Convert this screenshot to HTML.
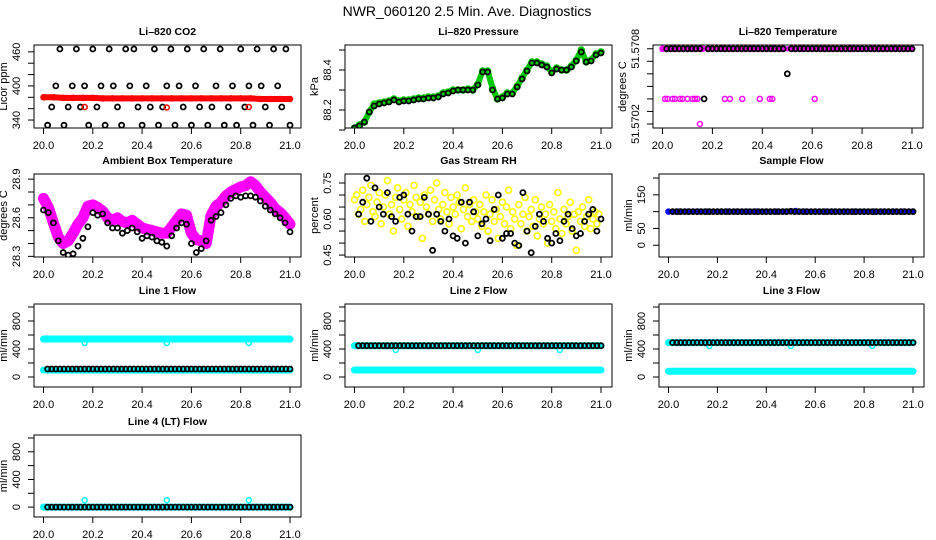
<!DOCTYPE html>
<html><head><meta charset="utf-8"><style>
html,body{margin:0;padding:0;background:#fff;}
svg{display:block;font-family:"Liberation Sans",Arial,sans-serif;}
</style></head><body>
<svg id="chart" width="936" height="540" viewBox="0 0 936 540" xmlns="http://www.w3.org/2000/svg">
<rect x="0" y="0" width="936" height="540" fill="#fff"/>
<text x="467" y="16" font-size="14" text-anchor="middle">NWR_060120  2.5 Min. Ave. Diagnostics</text>
</svg>
<script>
// ---- data ----
const tB = []; for (let k = 1; k <= 60; k++) tB.push(20 + k / 60);
const tC26 = []; for (let k = 0; k <= 25; k++) tC26.push(20 + k * 0.04);
const tC51 = []; for (let k = 0; k <= 50; k++) tC51.push(20 + k * 0.02);
const tY120 = []; for (let k = 0; k < 120; k++) tY120.push(20 + k / 120);
const dipTimes = [20.167, 20.5, 20.833];

const co2Black = [331,363,400,465,331,363,400,465,363,400,331,465,363,400,331,465,400,363,331,465,400,465,363,331,400,363,465,331,363,400,465,331,400,363,465,331,400,363,465,331,363,400,465,331,363,400,331,465,363,400,331,465,400,363,331,465,400,363,465,331];
const co2Red = [380,380,379,379,379,379,378,378,378,378,378,378,378,378,378,378,378,378,378,378,378,378,377,377,377,377];
const co2RedDip = [363,362,363];

const pressGreen = [88.11,88.125,88.14,88.19,88.23,88.235,88.24,88.245,88.255,88.245,88.25,88.25,88.255,88.26,88.26,88.265,88.265,88.27,88.285,88.29,88.30,88.30,88.30,88.305,88.30,88.33,88.395,88.395,88.31,88.255,88.265,88.285,88.285,88.32,88.36,88.40,88.44,88.44,88.43,88.42,88.39,88.41,88.40,88.40,88.42,88.45,88.50,88.44,88.45,88.48,88.49];
const pressBlack = [88.11,88.12,88.14,88.19,88.22,88.23,88.235,88.24,88.25,88.24,88.245,88.245,88.25,88.255,88.255,88.26,88.26,88.265,88.28,88.285,88.295,88.30,88.30,88.30,88.30,88.325,88.39,88.39,88.30,88.255,88.26,88.28,88.28,88.315,88.355,88.395,88.435,88.435,88.425,88.415,88.385,88.405,88.40,88.40,88.415,88.445,88.49,88.44,88.445,88.475,88.485];

const tempMagTop = [51.5708,51.5708,51.5708,51.5708,51.5708,51.5708,51.5708,51.5708,51.5708,51.5708,51.5708,51.5708,51.5708,51.5708,51.5708,51.5708,51.5708,51.5708,51.5708,51.5708,51.5708,51.5708,51.5708,51.5708,51.5708,51.5708];
const tempBlack = [51.5708,51.5708,51.5708,51.5708,51.5708,51.5708,51.5708,51.5708,51.5708,51.5704,51.5708,51.5708,51.5708,51.5708,51.5708,51.5708,51.5708,51.5708,51.5708,51.5708,51.5708,51.5708,51.5708,51.5708,51.5708,51.5708,51.5708,51.5708,51.5708,51.5706,51.5708,51.5708,51.5708,51.5708,51.5708,51.5708,51.5708,51.5708,51.5708,51.5708,51.5708,51.5708,51.5708,51.5708,51.5708,51.5708,51.5708,51.5708,51.5708,51.5708,51.5708,51.5708,51.5708,51.5708,51.5708,51.5708,51.5708,51.5708,51.5708,51.5708];
const tempMagLowT = [20.01,20.02,20.04,20.05,20.07,20.08,20.10,20.12,20.13,20.14,20.15,20.25,20.27,20.32,20.39,20.43,20.44,20.61];
const tempMagLowV = [51.5704,51.5704,51.5704,51.5704,51.5704,51.5704,51.5704,51.5704,51.5704,51.5704,51.5702,51.5704,51.5704,51.5704,51.5704,51.5704,51.5704,51.5704];

const ambMag = [28.75,28.68,28.56,28.45,28.40,28.42,28.48,28.55,28.60,28.69,28.70,28.68,28.65,28.60,28.58,28.60,28.57,28.56,28.58,28.55,28.52,28.51,28.50,28.49,28.48,28.48,28.53,28.58,28.63,28.62,28.48,28.43,28.42,28.40,28.62,28.69,28.72,28.77,28.80,28.82,28.84,28.85,28.88,28.85,28.80,28.76,28.72,28.67,28.64,28.60,28.55];
const ambBlack = [28.66,28.64,28.56,28.42,28.33,28.31,28.32,28.38,28.44,28.53,28.64,28.62,28.63,28.56,28.52,28.52,28.48,28.50,28.52,28.49,28.44,28.46,28.45,28.42,28.41,28.38,28.46,28.52,28.56,28.55,28.40,28.33,28.36,28.42,28.58,28.61,28.64,28.70,28.75,28.77,28.76,28.77,28.77,28.76,28.73,28.69,28.66,28.63,28.60,28.56,28.49];

const rhYellow = [.68,.70,.62,.64,.72,.59,.66,.69,.74,.63,.61,.67,.71,.58,.65,.70,.76,.62,.66,.55,.69,.73,.64,.60,.68,.71,.57,.66,.63,.74,.69,.61,.67,.52,.70,.65,.62,.72,.59,.68,.75,.64,.60,.66,.71,.63,.58,.69,.65,.62,.70,.67,.56,.64,.73,.61,.66,.59,.68,.63,.60,.66,.57,.63,.70,.55,.62,.68,.59,.64,.52,.61,.67,.58,.65,.72,.56,.63,.60,.49,.66,.58,.62,.69,.55,.61,.64,.57,.68,.53,.60,.65,.58,.62,.50,.66,.59,.63,.56,.71,.60,.54,.64,.58,.61,.67,.55,.62,.47,.63,.59,.65,.57,.61,.68,.56,.60,.63,.58,.62];
const rhBlack = [.62,.67,.77,.59,.73,.65,.62,.71,.61,.59,.69,.70,.62,.55,.61,.61,.69,.62,.47,.62,.59,.55,.60,.53,.52,.67,.50,.67,.63,.53,.58,.60,.51,.64,.70,.52,.54,.54,.50,.49,.71,.55,.46,.57,.62,.59,.52,.50,.54,.51,.59,.62,.56,.53,.54,.59,.62,.64,.55,.60];

const sampleBlue = [100,100,100,100,100,100,100,100,100,100,100,100,100,102,100,100,100,100,100,100,100,100,100,100,100,100];
const sampleBlack = [100,100,100,100,100,100,100,100,100,100,100,100,100,100,100,100,100,100,100,100,100,100,100,100,100,100,100,100,100,101,100,100,100,100,100,100,100,100,100,100,100,100,100,100,100,100,100,100,100,100,100,100,100,100,100,100,100,100,100,100];

const l1CyanHi = [543,543,543,543,543,543,543,543,543,543,543,543,543,543,543,543,543,543,543,543,543,543,543,543,543,543];
const l1CyanDip = [486,486,486];
const l1CyanLo = [100,100,100,100,100,100,100,100,100,100,100,100,100,100,100,100,100,100,100,100,100,100,100,100,100,100];
const l1Black = [114,114,114,114,114,114,114,114,114,114,114,114,114,114,114,114,114,114,114,114,114,114,114,114,114,114,114,114,114,114,114,114,114,114,114,114,114,114,114,114,114,114,114,114,114,114,114,114,114,114,114,114,114,114,114,114,114,114,114,114];

const l2CyanHi = [447,447,447,447,447,447,447,447,447,447,447,447,447,447,447,447,447,447,447,447,447,447,447,447,447,447];
const l2CyanDip = [386,386,386];
const l2CyanLo = [100,100,100,100,100,100,100,100,100,100,100,100,100,100,100,100,100,100,100,100,100,100,100,100,100,100];
const l2Black = [447,447,447,447,447,447,447,447,447,447,447,447,447,447,447,447,447,447,447,447,447,447,447,447,447,447,447,447,447,447,447,447,447,447,447,447,447,447,447,447,447,447,447,447,447,447,447,447,447,447,447,447,447,447,447,447,447,447,447,447];

const l3CyanHi = [492,492,492,492,492,492,492,492,492,492,492,492,492,492,492,492,492,492,492,492,492,492,492,492,492,492];
const l3CyanDip = [443,443,443];
const l3CyanLo = [81,81,81,81,81,81,81,81,81,81,81,81,81,81,81,81,81,81,81,81,81,81,81,81,81,81];
const l3Black = [492,492,492,492,492,492,492,492,492,492,492,492,492,492,492,492,492,492,492,492,492,492,492,492,492,492,492,492,492,492,492,492,492,492,492,492,492,492,492,492,492,492,492,492,492,492,492,492,492,492,492,492,492,492,492,492,492,492,492,492];

const l4Cyan = [0,0,0,0,0,0,0,0,0,0,0,0,0,0,0,0,0,0,0,0,0,0,0,0,0,0];
const l4CyanDip = [100,100,100];
const l4Black = [0,0,0,0,0,0,0,0,0,0,0,0,0,0,0,0,0,0,0,0,0,0,0,0,0,0,0,0,0,0,0,0,0,0,0,0,0,0,0,0,0,0,0,0,0,0,0,0,0,0,0,0,0,0,0,0,0,0,0,0];

const xTicks = [20.0, 20.2, 20.4, 20.6, 20.8, 21.0];
const xTickLabels = ["20.0","20.2","20.4","20.6","20.8","21.0"];
const flowTicks = [0,200,400,600,800,1000];
const flowLabels = ["0","","400","","800",""];

// ---- layout ----
const svg = document.getElementById('chart');
const NS = 'http://www.w3.org/2000/svg';
const cols = [[34,301],[345,612],[659,924]];
const rows = [[45,128],[174,257],[304,387],[435,517]];
function mk(tag, attrs, parent) {
  const e = document.createElementNS(NS, tag);
  for (const k in attrs) e.setAttribute(k, attrs[k]);
  (parent || svg).appendChild(e);
  return e;
}

function panel(cfg) {
  const [l, r] = cfg.box || cols[cfg.col];
  const [t, b] = rows[cfg.row];
  const g = mk('g', {});
  
  
  const xs = v => l + 9.5 + (v - 20) * (r - l - 20.5);
  const ys = v => b - (v - cfg.ylim[0]) / (cfg.ylim[1] - cfg.ylim[0]) * (b - t);
  const clip = 'clip-' + cfg.name;
  const cp = mk('clipPath', {id: clip}, g);
  mk('rect', {x: l, y: t, width: r - l, height: b - t}, cp);
  const plot = mk('g', {'clip-path': 'url(#' + clip + ')'}, g);
  
  
  cfg.series.forEach(s => {
    const sg = mk('g', {}, plot);
    
    
    if (s.band) {
      const pts = s.t.map((tv, i) => xs(tv).toFixed(1) + ',' + ys(s.v[i]).toFixed(1)).join(' ');
      const pl = mk('polyline', {points: pts, fill: 'none', stroke: s.color, 'stroke-width': s.band, 'stroke-linejoin': 'round', 'stroke-linecap': 'round'}, sg);
      
      
    }
    s.t.forEach((tv, i) => {
      const c = mk('circle', {cx: xs(tv).toFixed(1), cy: ys(s.v[i]).toFixed(1), r: s.r || 2.5, fill: 'none', stroke: s.color, 'stroke-width': s.sw || (s.color === '#000' ? 1.8 : 1.5)}, sg);
      
      
    });
  });
  const frame = mk('rect', {x: l, y: t, width: r - l, height: b - t, fill: 'none', stroke: '#000', 'stroke-width': 1}, g);
  
  
  const title = mk('text', {x: (l + r) / 2, y: t - 10, 'font-size': 10.5, 'font-weight': 'bold', 'text-anchor': 'middle'}, g);
  title.textContent = cfg.title;
  
  
  const xa = mk('g', {}, g);
  
  
  mk('line', {x1: xs(20), x2: xs(21), y1: b, y2: b, stroke: '#000'}, xa);
  xTicks.forEach((v, i) => {
    mk('line', {x1: xs(v), x2: xs(v), y1: b, y2: b + 6, stroke: '#000'}, xa);
    const tx = mk('text', {x: xs(v), y: b + 21, 'font-size': 11, 'text-anchor': 'middle'}, xa);
    tx.textContent = xTickLabels[i];
    
    
  });
  const ya = mk('g', {}, g);
  
  
  const yt = cfg.yticks;
  mk('line', {x1: l, x2: l, y1: ys(yt[0]), y2: ys(yt[yt.length - 1]), stroke: '#000'}, ya);
  yt.forEach((v, i) => {
    const y = ys(v);
    mk('line', {x1: l - 6, x2: l, y1: y, y2: y, stroke: '#000'}, ya);
    if (cfg.ylabels[i]) {
      const tx = mk('text', {x: l - 14, y: y, 'font-size': 11, 'text-anchor': 'middle', transform: 'rotate(-90 ' + (l - 14) + ' ' + y + ')'}, ya);
      tx.textContent = cfg.ylabels[i];
      
      
    }
  });
  const ylab = mk('text', {x: l - 27, y: (t + b) / 2, 'font-size': 11, 'text-anchor': 'middle', transform: 'rotate(-90 ' + (l - 27) + ' ' + (t + b) / 2 + ')'}, g);
  ylab.textContent = cfg.ylab;
  
  
}

panel({name:'co2', col:0, row:0, title:'Li–820 CO2', ylab:'Licor ppm', ylim:[326,472],
  yticks:[340,360,380,400,420,440,460], ylabels:['340','','','400','','','460'],
  series:[{name:'co2-black', t:tB, v:co2Black, color:'#000'},
          {name:'co2-red', t:tC26, v:co2Red, color:'#f00', band:6},
          {name:'co2-red-dips', t:dipTimes, v:co2RedDip, color:'#f00'}]});
panel({name:'pressure', col:1, row:0, title:'Li–820 Pressure', ylab:'kPa', ylim:[88.11,88.525],
  yticks:[88.1,88.2,88.3,88.4,88.5], ylabels:['','88.2','','88.4',''],
  series:[{name:'pressure-green', t:tC51, v:pressGreen, color:'#00c800', band:6, r:3},
          {name:'pressure-black', t:tC51, v:pressBlack, color:'#000'}]});
panel({name:'li820-temp', box:[653,923], row:0, title:'Li–820 Temperature', ylab:'degrees C', ylim:[51.570168,51.57083],
  yticks:[51.5702,51.5703,51.5704,51.5705,51.5706,51.5707,51.5708], ylabels:['51.5702','','','','','','51.5708'],
  series:[{name:'temp-magenta', t:tC26, v:tempMagTop, color:'#f0f', band:5},
          {name:'temp-black', t:tB, v:tempBlack, color:'#000'},
          {name:'temp-magenta-low', t:tempMagLowT, v:tempMagLowV, color:'#f0f'}]});
panel({name:'ambient', col:0, row:1, title:'Ambient Box Temperature', ylab:'degrees C', ylim:[28.295,28.94],
  yticks:[28.3,28.4,28.5,28.6,28.7,28.8,28.9], ylabels:['28.3','','','28.6','','','28.9'],
  series:[{name:'ambient-magenta', t:tC51, v:ambMag, color:'#f0f', band:11, r:3.5},
          {name:'ambient-black', t:tC51, v:ambBlack, color:'#000'}]});
panel({name:'rh', col:1, row:1, title:'Gas Stream RH', ylab:'percent', ylim:[0.442,0.7875],
  yticks:[0.45,0.5,0.55,0.6,0.65,0.7,0.75], ylabels:['0.45','','','0.60','','','0.75'],
  series:[{name:'rh-yellow', t:tY120, v:rhYellow, color:'#ff0', r:3, sw:1.6},
          {name:'rh-black', t:tB, v:rhBlack, color:'#000'}]});
panel({name:'sample-flow', col:2, row:1, title:'Sample Flow', ylab:'ml/min', ylim:[-35,212],
  yticks:[0,50,100,150,200], ylabels:['0','50','','150',''],
  series:[{name:'sample-blue', t:tC26, v:sampleBlue, color:'#00f', band:5},
          {name:'sample-black', t:tB, v:sampleBlack, color:'#000'}]});
panel({name:'line1', col:0, row:2, title:'Line 1 Flow', ylab:'ml/min', ylim:[-143,1043],
  yticks:flowTicks, ylabels:flowLabels,
  series:[{name:'line1-cyan-high', t:tC26, v:l1CyanHi, color:'#0ff', band:7},
          {name:'line1-cyan-dips', t:dipTimes, v:l1CyanDip, color:'#0ff'},
          {name:'line1-cyan-low', t:tC26, v:l1CyanLo, color:'#0ff', band:7},
          {name:'line1-black', t:tB, v:l1Black, color:'#000'}]});
panel({name:'line2', col:1, row:2, title:'Line 2 Flow', ylab:'ml/min', ylim:[-143,1043],
  yticks:flowTicks, ylabels:flowLabels,
  series:[{name:'line2-cyan-high', t:tC26, v:l2CyanHi, color:'#0ff', band:7},
          {name:'line2-cyan-dips', t:dipTimes, v:l2CyanDip, color:'#0ff'},
          {name:'line2-cyan-low', t:tC26, v:l2CyanLo, color:'#0ff', band:7},
          {name:'line2-black', t:tB, v:l2Black, color:'#000'}]});
panel({name:'line3', col:2, row:2, title:'Line 3 Flow', ylab:'ml/min', ylim:[-143,1043],
  yticks:flowTicks, ylabels:flowLabels,
  series:[{name:'line3-cyan-high', t:tC26, v:l3CyanHi, color:'#0ff', band:7},
          {name:'line3-cyan-dips', t:dipTimes, v:l3CyanDip, color:'#0ff'},
          {name:'line3-cyan-low', t:tC26, v:l3CyanLo, color:'#0ff', band:7},
          {name:'line3-black', t:tB, v:l3Black, color:'#000'}]});
panel({name:'line4', col:0, row:3, title:'Line 4 (LT) Flow', ylab:'ml/min', ylim:[-143,1043],
  yticks:flowTicks, ylabels:flowLabels,
  series:[{name:'line4-cyan', t:tC26, v:l4Cyan, color:'#0ff', band:7},
          {name:'line4-cyan-spikes', t:dipTimes, v:l4CyanDip, color:'#0ff'},
          {name:'line4-black', t:tB, v:l4Black, color:'#000'}]});
</script>
</body></html>
